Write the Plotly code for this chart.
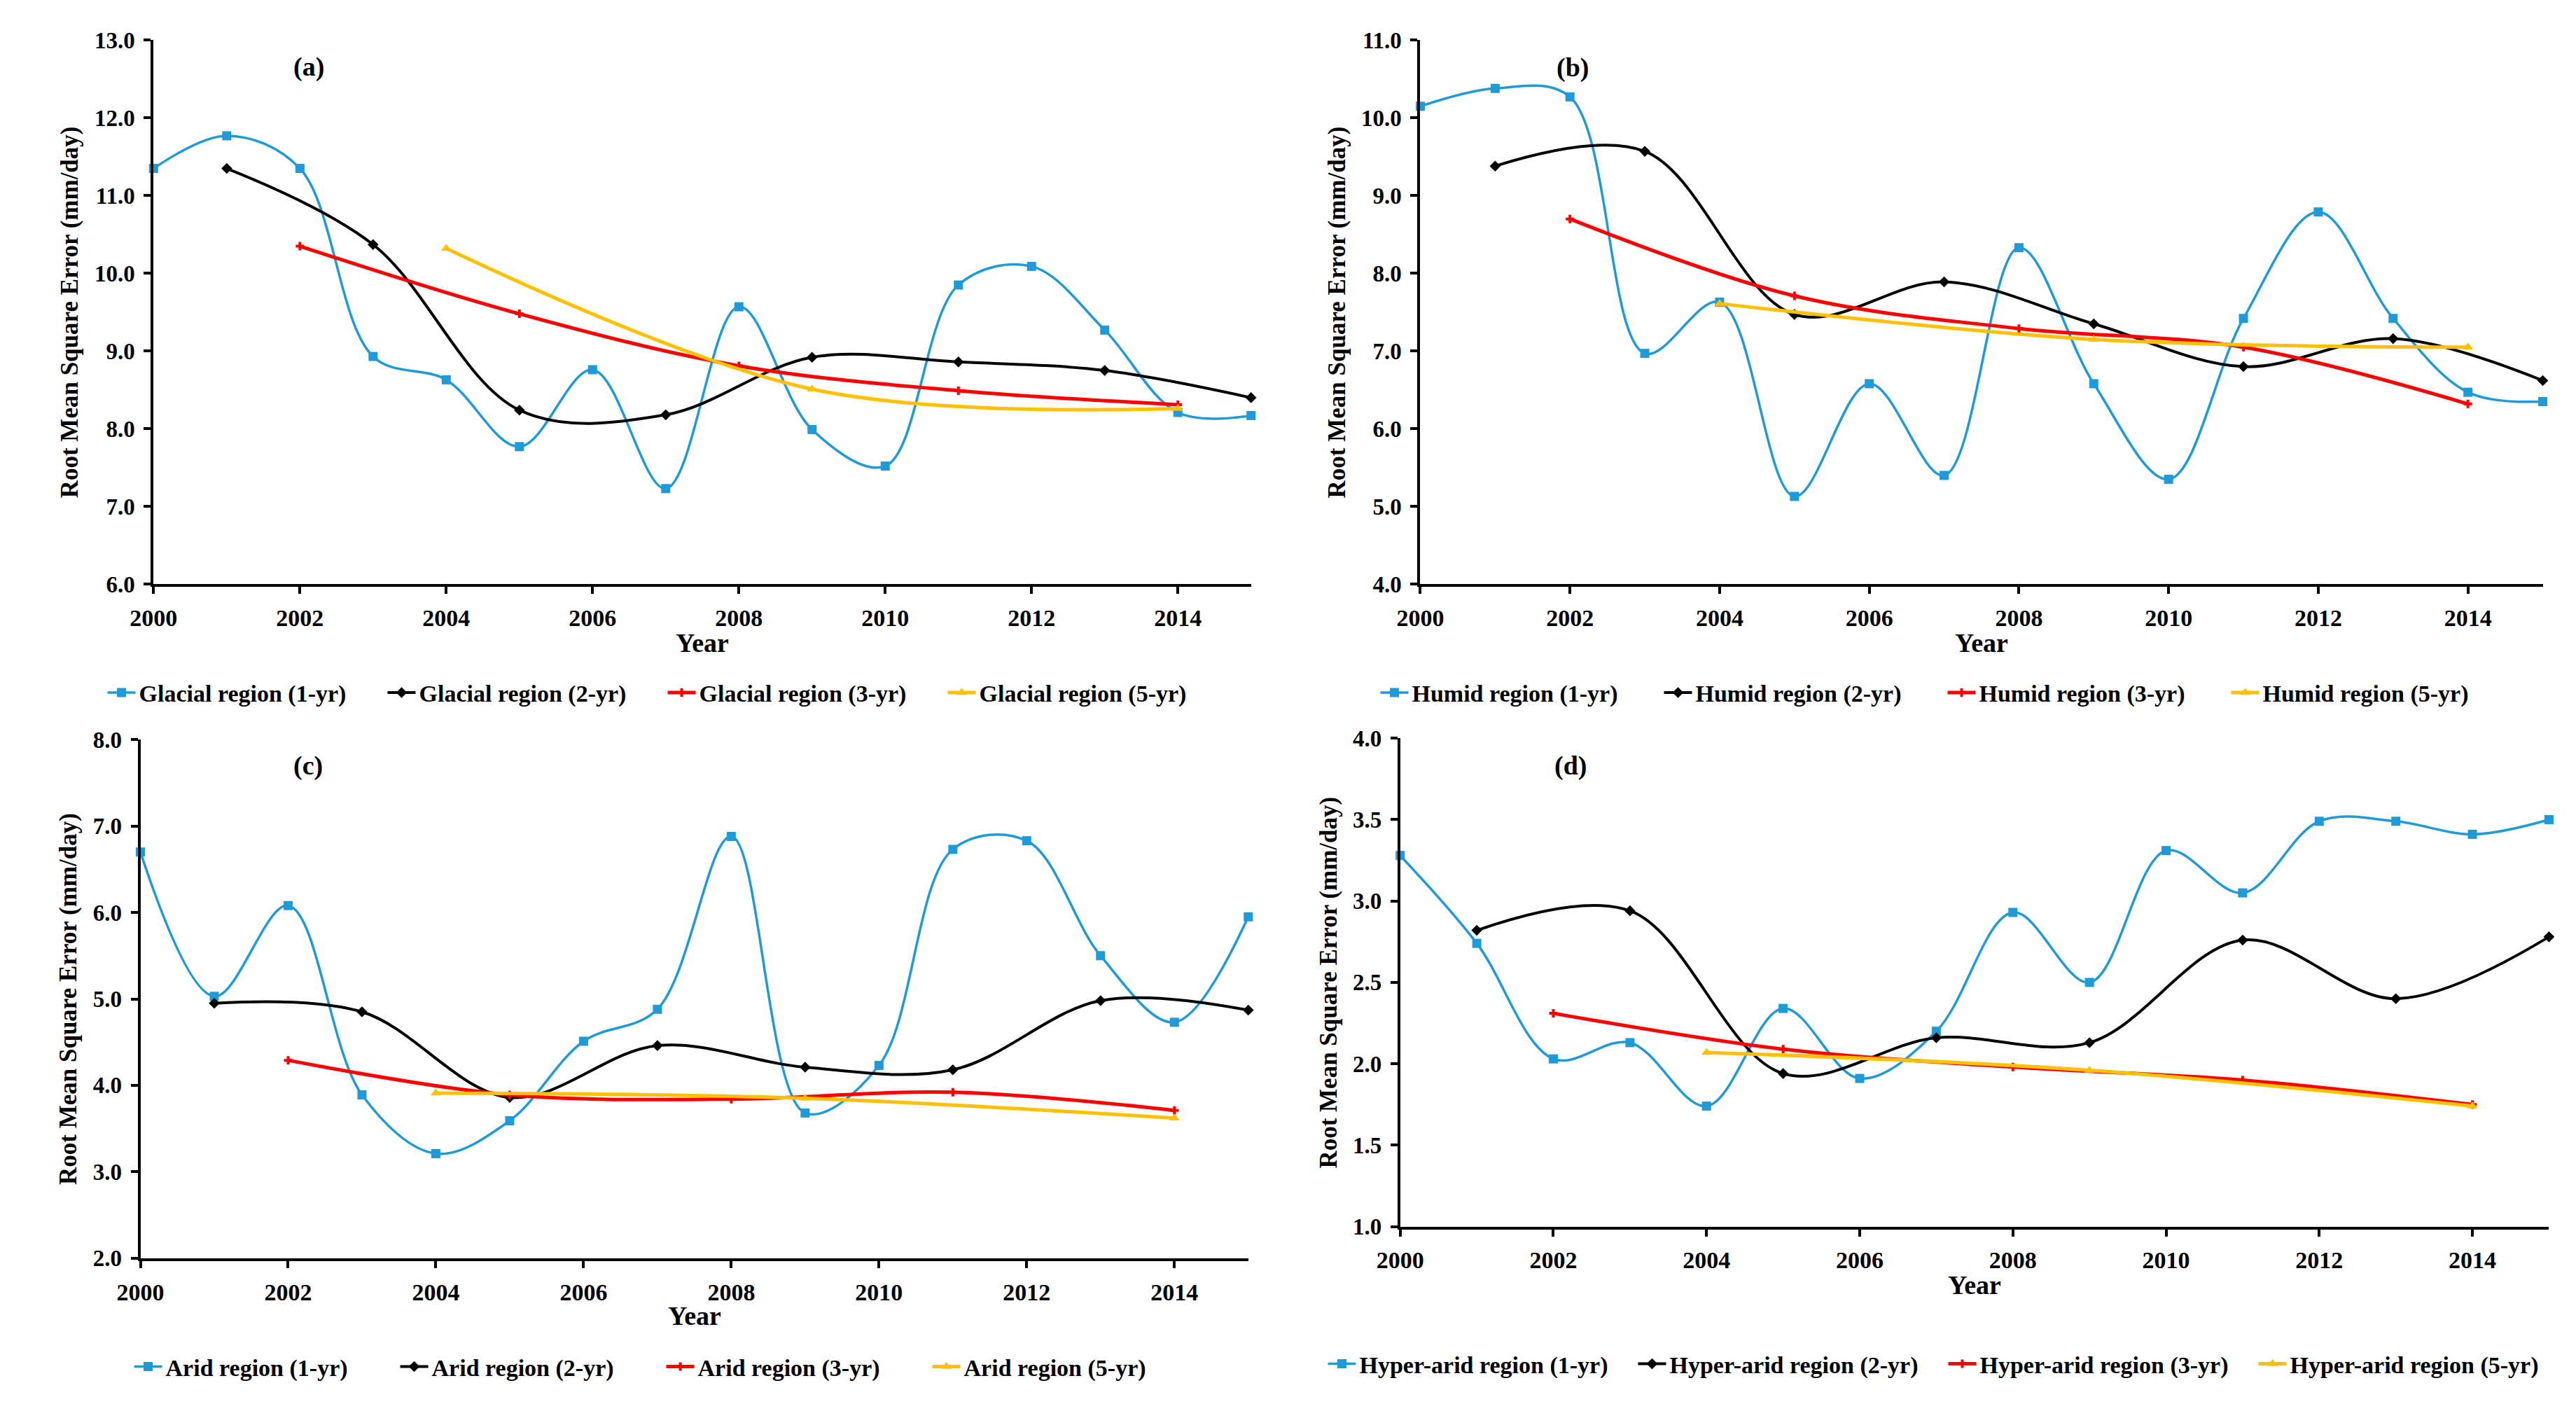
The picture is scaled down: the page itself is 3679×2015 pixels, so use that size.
import plotly.graph_objects as go

years_1 = list(range(2000, 2016))
years_2 = [2001, 2003, 2005, 2007, 2009, 2011, 2013, 2015]
years_3 = [2002, 2005, 2008, 2011, 2014]
years_5 = [2004, 2009, 2014]

glacial_1 = [11.35, 11.77, 11.35, 8.93, 8.63, 7.77, 8.76, 7.23, 9.57, 7.99, 7.52, 9.85, 10.09, 9.27, 8.21, 8.17]
glacial_2 = [11.35, 10.37, 8.24, 8.18, 8.92, 8.86, 8.75, 8.40]
glacial_3 = [10.35, 9.48, 8.81, 8.49, 8.31]
glacial_5 = [10.32, 8.51, 8.26]

humid_1 = [10.15, 10.38, 10.27, 6.97, 7.63, 5.13, 6.58, 5.40, 8.33, 6.58, 5.35, 7.42, 8.79, 7.42, 6.47, 6.35]
humid_2 = [9.38, 9.57, 7.47, 7.89, 7.35, 6.80, 7.16, 6.62]
humid_3 = [8.70, 7.71, 7.29, 7.05, 6.32]
humid_5 = [7.61, 7.15, 7.05]

arid_1 = [6.70, 5.03, 6.08, 3.89, 3.21, 3.59, 4.51, 4.88, 6.88, 3.68, 4.23, 6.73, 6.83, 5.50, 4.73, 5.95]
arid_2 = [4.95, 4.85, 3.86, 4.46, 4.21, 4.18, 4.98, 4.87]
arid_3 = [4.29, 3.89, 3.84, 3.92, 3.71]
arid_5 = [3.91, 3.85, 3.62]

hyper_1 = [3.28, 2.74, 2.03, 2.13, 1.74, 2.34, 1.91, 2.20, 2.93, 2.50, 3.31, 3.05, 3.49, 3.49, 3.41, 3.50]
hyper_2 = [2.82, 2.94, 1.94, 2.16, 2.13, 2.76, 2.40, 2.78]
hyper_3 = [2.31, 2.09, 1.98, 1.90, 1.75]
hyper_5 = [2.07, 1.96, 1.74]

x_ticks = [2000, 2002, 2004, 2006, 2008, 2010, 2012, 2014]

W, H = 3679, 2015
FONT = "Liberation Serif"

panels = [
    dict(name="Glacial region", data=[glacial_1, glacial_2, glacial_3, glacial_5], yr=[6, 13], dt=1.0,
         px=(179, 1761), py=(33, 824), label="(a)", lab=(403, 72), leg=(915, 982), ew=345,
         ytx=58, yearY=909),
    dict(name="Humid region", data=[humid_1, humid_2, humid_3, humid_5], yr=[4, 11], dt=1.0,
         px=(2005, 3623), py=(33, 824), label="(b)", lab=(2225, 73), leg=(2760, 982), ew=350,
         ytx=1885, yearY=909),
    dict(name="Arid region", data=[arid_1, arid_2, arid_3, arid_5], yr=[2, 8], dt=1.0,
         px=(160, 1757), py=(1050, 1804), label="(c)", lab=(402, 1088), leg=(913, 1962), ew=325,
         ytx=56, yearY=1888),
    dict(name="Hyper-arid region", data=[hyper_1, hyper_2, hyper_3, hyper_5], yr=[1, 4], dt=0.5,
         px=(1976, 3632), py=(1048, 1758), label="(d)", lab=(2222, 1088), leg=(2761, 1958), ew=388,
         ytx=1873, yearY=1843),
]

series_style = [
    dict(suffix="(1-yr)", x=years_1, color="#1E9AD9", width=3.5, symbol="square", size=13),
    dict(suffix="(2-yr)", x=years_2, color="#000000", width=4, symbol="diamond", size=12),
    dict(suffix="(3-yr)", x=years_3, color="#FF0000", width=5, symbol="cross", size=10),
    dict(suffix="(5-yr)", x=years_5, color="#FFC000", width=5, symbol="triangle-up", size=13),
]

fig = go.Figure()
annotations = []
layout = {}

for i, p in enumerate(panels):
    k = "" if i == 0 else str(i + 1)
    xa, ya = "x" + k, "y" + k
    leg = "legend" + k
    for s, vals in zip(series_style, p["data"]):
        fig.add_trace(go.Scatter(
            x=s["x"], y=vals, mode="lines+markers",
            name=f'{p["name"]} {s["suffix"]}',
            line=dict(color=s["color"], width=s["width"], shape="spline", smoothing=1.0),
            marker=dict(symbol=s["symbol"], size=s["size"], color=s["color"]),
            xaxis=xa, yaxis=ya, legend=leg, cliponaxis=False,
        ))
    xdom = [p["px"][0] / W, p["px"][1] / W]
    ydom = [1 - p["py"][1] / H, 1 - p["py"][0] / H]
    layout["xaxis" + k] = dict(
        domain=xdom, range=[2000, 2015], tickvals=x_ticks, anchor=ya,
        showline=True, linecolor="black", linewidth=4, ticks="outside", ticklen=10,
        tickwidth=4, tickcolor="black", showgrid=False, zeroline=False,
        tickfont=dict(family=FONT, size=34, color="black", weight="bold"),
        ticklabelstandoff=5,
    )
    layout["yaxis" + k] = dict(
        domain=ydom, range=p["yr"], dtick=p["dt"], tick0=p["yr"][0], tickformat=".1f", anchor=xa,
        showline=True, linecolor="black", linewidth=4, ticks="outside", ticklen=10,
        tickwidth=4, tickcolor="black", showgrid=False, zeroline=False,
        tickfont=dict(family=FONT, size=33, color="black", weight="bold"),
        ticklabelstandoff=6,
    )
    layout[leg] = dict(
        orientation="h", x=p["leg"][0] / W, y=1 - p["leg"][1] / H, xanchor="center", yanchor="middle",
        font=dict(family=FONT, size=34, color="black", weight="bold"), bgcolor="rgba(0,0,0,0)",
        entrywidth=p["ew"], entrywidthmode="pixels", itemwidth=40,
    )
    annotations.append(dict(
        text="Root Mean Square Error (mm/day)", xref="paper", yref="paper",
        x=p["ytx"] / W, y=(ydom[0] + ydom[1]) / 2, textangle=-90, showarrow=False,
        font=dict(family=FONT, size=35, color="black", weight="bold"), xanchor="center", yanchor="middle",
    ))
    annotations.append(dict(
        text="Year", xref="paper", yref="paper",
        x=(xdom[0] + xdom[1]) / 2, y=1 - p["yearY"] / H, showarrow=False,
        font=dict(family=FONT, size=38, color="black", weight="bold"), xanchor="center", yanchor="middle",
    ))
    annotations.append(dict(
        text=p["label"], xref="paper", yref="paper",
        x=p["lab"][0] / W, y=1 - p["lab"][1] / H, showarrow=False,
        font=dict(family=FONT, size=38, color="black", weight="bold"), xanchor="center", yanchor="middle",
    ))

fig.update_layout(
    width=W, height=H, autosize=False,
    margin=dict(l=0, r=0, t=0, b=0),
    paper_bgcolor="white", plot_bgcolor="white",
    annotations=annotations, showlegend=True,
    **layout,
)

fig.write_html("out.html")
